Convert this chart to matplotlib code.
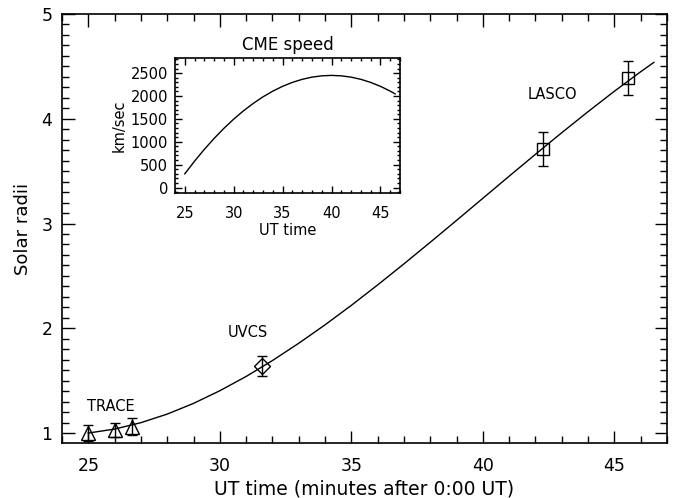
import matplotlib
matplotlib.use("Agg")
import matplotlib.pyplot as plt
from matplotlib.ticker import MultipleLocator

# Fit curves
fit_time = [25, 26, 27, 28, 29, 30, 31, 32, 33, 34, 35, 36, 37, 38, 39, 40,
            41, 42, 43, 44, 45, 46, 46.5]
fit_height = [1.000, 1.038, 1.099, 1.181, 1.283, 1.404, 1.540, 1.692, 1.857,
              2.033, 2.219, 2.414, 2.615, 2.821, 3.030, 3.241, 3.452, 3.661,
              3.867, 4.068, 4.263, 4.449, 4.538]
fit_speed = [299, 576, 834, 1073, 1293, 1494, 1676, 1838, 1982, 2106, 2211,
             2297, 2364, 2412, 2440, 2450, 2440, 2412, 2364, 2297, 2211,
             2106, 2046]

# Observations
trace_t = [25.0, 26.0, 26.65]
trace_h = [1.00, 1.03, 1.06]
trace_err = [0.08, 0.07, 0.08]
uvcs_t = [31.6]
uvcs_h = [1.64]
uvcs_err = [0.10]
lasco_t = [42.3, 45.5]
lasco_h = [3.71, 4.39]
lasco_err = [0.16, 0.16]

plt.rcParams['font.family'] = ['DejaVu Sans']
fig = plt.figure(figsize=(6.73, 4.98), dpi=100)
ax = fig.add_axes([62/673, 1-443/498, (667-62)/673, (443-14)/498])

ax.plot(fit_time, fit_height, color='k', lw=1.0)
ax.errorbar(trace_t, trace_h, yerr=trace_err, fmt='^', ms=10, mfc='none',
            mec='k', ecolor='k', elinewidth=1, capsize=3.5, mew=1)
ax.errorbar(uvcs_t, uvcs_h, yerr=uvcs_err, fmt='D', ms=8, mfc='none',
            mec='k', ecolor='k', elinewidth=1, capsize=3.5, mew=1)
ax.errorbar(lasco_t, lasco_h, yerr=lasco_err, fmt='s', ms=8, mfc='none',
            mec='k', ecolor='k', elinewidth=1, capsize=3.5, mew=1)

ax.text(25.85, 1.25, 'TRACE', fontsize=10.5, ha='center', va='center')
ax.text(31.05, 1.96, 'UVCS', fontsize=10.5, ha='center', va='center')
ax.text(42.65, 4.23, 'LASCO', fontsize=10.5, ha='center', va='center')

ax.set_xlim(24, 47)
ax.set_ylim(0.905, 5)
ax.xaxis.set_major_locator(MultipleLocator(5))
ax.xaxis.set_minor_locator(MultipleLocator(1))
ax.yaxis.set_major_locator(MultipleLocator(1))
ax.yaxis.set_minor_locator(MultipleLocator(0.1))
ax.tick_params(which='both', direction='in', top=True, right=True, width=1)
ax.tick_params(which='major', length=9, labelsize=12.5)
ax.tick_params(axis='x', which='major', pad=10)
ax.tick_params(axis='y', which='major', pad=7)
ax.tick_params(which='minor', length=5)
ax.set_xlabel('UT time (minutes after 0:00 UT)', fontsize=13.5, labelpad=3)
ax.set_ylabel('Solar radii', fontsize=13, labelpad=7)
for s in ax.spines.values():
    s.set_linewidth(1.2)

# Inset
ins = fig.add_axes([175/673, 1-193/498, (400-175)/673, (193-58)/498])
ins.plot(fit_time, fit_speed, color='k', lw=1.0)
ins.set_xlim(24, 47)
ins.set_ylim(-120, 2830)
ins.xaxis.set_major_locator(MultipleLocator(5))
ins.xaxis.set_minor_locator(MultipleLocator(1))
ins.yaxis.set_major_locator(MultipleLocator(500))
ins.yaxis.set_minor_locator(MultipleLocator(100))
ins.tick_params(which='both', direction='in', top=True, right=True, width=1)
ins.tick_params(which='major', length=5, labelsize=10.5)
ins.tick_params(axis='x', which='major', pad=9)
ins.tick_params(axis='y', which='major', pad=5)
ins.tick_params(which='minor', length=2.5)
ins.set_title('CME speed', fontsize=12, pad=6)
ins.set_xlabel('UT time', fontsize=10.5, labelpad=2)
ins.set_ylabel('km/sec', fontsize=10.5, labelpad=3)
for s in ins.spines.values():
    s.set_linewidth(1.2)

fig.savefig('out.png', dpi=100)
